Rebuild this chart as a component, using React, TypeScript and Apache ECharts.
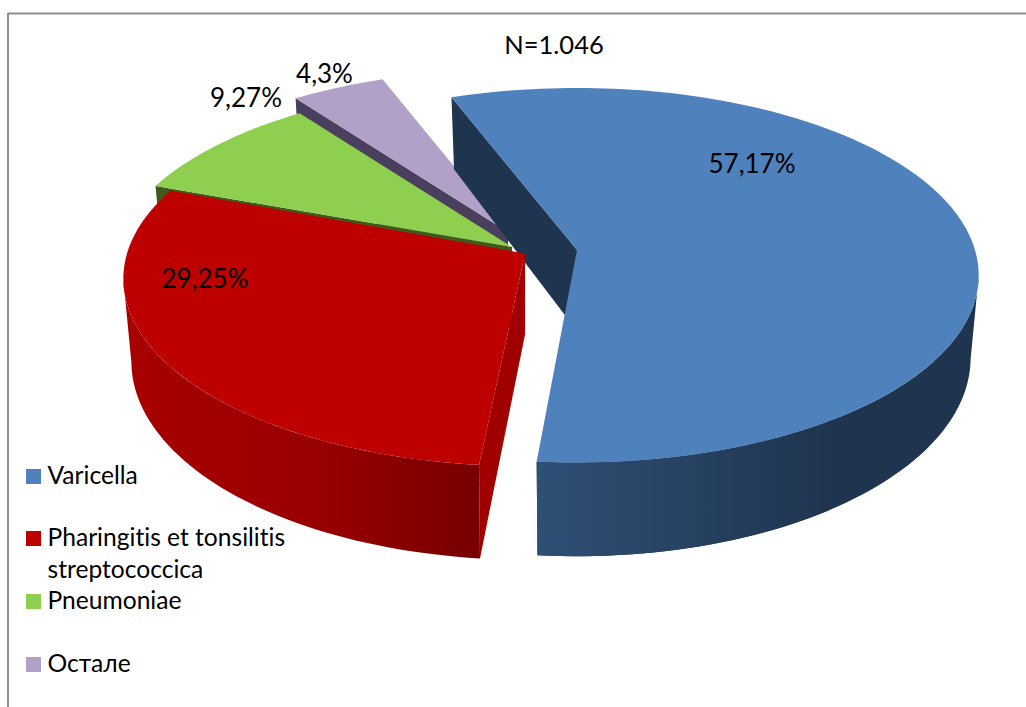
import React, { useEffect, useRef } from "react";
import * as echarts from "echarts";

const categories = ["Varicella", "Pharingitis et tonsilitis streptococcica", "Pneumoniae", "Остале"];
const values = [57.17, 29.25, 9.27, 4.3];
const note = "N=1.046";

const colors = ["#4f81bd", "#bd0000", "#8fcf4f", "#b1a0c7"];
const edgeColors = ["#1f344f", "#a00000", "#3f5a1c", "#4a3f5c"];
const apexes = [[577, 250], [525, 253.5], [512, 247], [508, 232]];
const rotations = [0, 0.7, 0, 0];
const layers = [30, 40, 20, 10];
const labelPos = [[752, 163], [205, 278], [246, 97], [324.5, 73]];
const legendRows = [[476], [538, 570], [601], [664]];
const legendLines = [["Varicella"], ["Pharingitis et tonsilitis", "streptococcica"], ["Pneumoniae"], ["Остале"]];

const FONT = "Lato";
const LEGEND_FS = 24.6;
const LABEL_FS = 26;
const NOTE_FS = 25.5;
const START = -20.8;
const RX = 398, RY = 183.9, K = 0.1349, DEPTH = 81, BOTTOM_X = 0.98;
const RIGHT_EXTREME = 98, LEFT_EXTREME = 262;

const total = values.reduce((a, b) => a + b, 0);
const rad = (d: number) => (d * Math.PI) / 180;

function project(apex: number[], deg: number, drop: number) {
  const X = Math.sin(rad(deg));
  const Z = Math.cos(rad(deg));
  const s = 1 / (1 + K * Z);
  const xScale = drop > 0 ? BOTTOM_X : 1;
  return [apex[0] + RX * X * s * xScale, apex[1] - RY * Z * s + drop * s];
}
function arc(apex: number[], a: number, b: number, drop: number) {
  const n = Math.max(4, Math.ceil(Math.abs(b - a) / 1.5));
  const pts: number[][] = [];
  for (let k = 0; k <= n; k++) pts.push(project(apex, a + ((b - a) * k) / n, drop));
  return pts;
}

function renderItem(params: any, api: any) {
  const i = params.dataIndex;
  let a0 = START;
  for (let j = 0; j < i; j++) a0 += (values[j] / total) * 360;
  const a1 = a0 + (api.value(0) / total) * 360;
  const startA = a0 + rotations[i];
  const endA = a1 + rotations[i];
  const apex = apexes[i];
  const low = [apex[0], apex[1] + DEPTH];
  const children: any[] = [];
  const z = layers[i];
  const poly = (points: number[][], fill: any, dz: number) => ({
    type: "polygon",
    z2: z + dz,
    shape: { points },
    style: { fill },
    silent: true,
  });
  // flat wall along the slice's first edge
  children.push(poly([apex, project(apex, startA, 0), project(apex, startA, DEPTH), low], edgeColors[i], 0));
  // curved outer wall
  if (i === 0) {
    const back = arc(apex, RIGHT_EXTREME, endA, 0).concat(arc(apex, endA, RIGHT_EXTREME, DEPTH));
    children.push(poly(back, edgeColors[0], 1));
    const front = arc(apex, 145, endA, 0).concat(arc(apex, endA, 145, DEPTH));
    children.push(
      poly(front, new echarts.graphic.LinearGradient(0, 0, 1, 0, [
        { offset: 0, color: "#2f4f75" },
        { offset: 1, color: "#1f344f" },
      ]), 2)
    );
  }
  if (i === 1) {
    const wall = arc(apex, startA, LEFT_EXTREME, 0).concat(arc(apex, LEFT_EXTREME, startA, DEPTH));
    children.push(
      poly(wall, new echarts.graphic.LinearGradient(0, 0, 1, 0, [
        { offset: 0, color: "#a80000" },
        { offset: 0.55, color: "#990000" },
        { offset: 1, color: "#760000" },
      ]), 1)
    );
  }
  // top face
  children.push(poly([apex].concat(arc(apex, startA, endA, 0)), colors[i], 3));
  // data label
  children.push({
    type: "text",
    z2: 100,
    x: labelPos[i][0],
    y: labelPos[i][1],
    style: {
      text: String(api.value(0)).replace(".", ",") + "%",
      fill: "#000",
      font: `${LABEL_FS}px ${FONT}`,
      align: "center",
      verticalAlign: "middle",
    },
  });
  return { type: "group", children };
}

export default function App() {
  const ref = useRef<HTMLDivElement>(null);
  useEffect(() => {
    document.body.style.margin = "0";
    const chart = echarts.init(ref.current!, null, { renderer: "svg" });
    const legendGraphics: any[] = [];
    categories.forEach((name, i) => {
      legendGraphics.push({
        type: "rect",
        shape: { x: 26, y: legendRows[i][0] - 7, width: 15, height: 15 },
        style: { fill: colors[i] },
      });
      legendLines[i].forEach((line, k) => {
        legendGraphics.push({
          type: "text",
          x: 47.5,
          y: legendRows[i][k] - 2,
          style: { text: line, fill: "#000", font: `${LEGEND_FS}px ${FONT}`, align: "left", verticalAlign: "middle" },
        });
      });
    });
    chart.setOption({
      animation: false,
      backgroundColor: "#fff",
      graphic: [
        { type: "line", shape: { x1: 8, y1: 13.5, x2: 1026, y2: 13.5 }, style: { stroke: "#8e8e8e", lineWidth: 2 } },
        { type: "line", shape: { x1: 8, y1: 13, x2: 8, y2: 707 }, style: { stroke: "#8e8e8e", lineWidth: 2 } },
        {
          type: "text",
          x: 554,
          y: 44,
          style: { text: note, fill: "#000", font: `${NOTE_FS}px ${FONT}`, align: "center", verticalAlign: "middle" },
        },
        ...legendGraphics,
      ],
      series: [
        {
          type: "custom",
          coordinateSystem: "none",
          silent: true,
          renderItem,
          data: values.map((v, i) => ({ name: categories[i], value: [v] })),
        },
      ],
    });
    return () => chart.dispose();
  }, []);
  return (
    <>
      <style>{"svg text { font-variant-ligatures: none !important; }"}</style>
      <div ref={ref} style={{ position: "absolute", left: 0, top: 0, width: 1026, height: 707 }} />
    </>
  );
}
